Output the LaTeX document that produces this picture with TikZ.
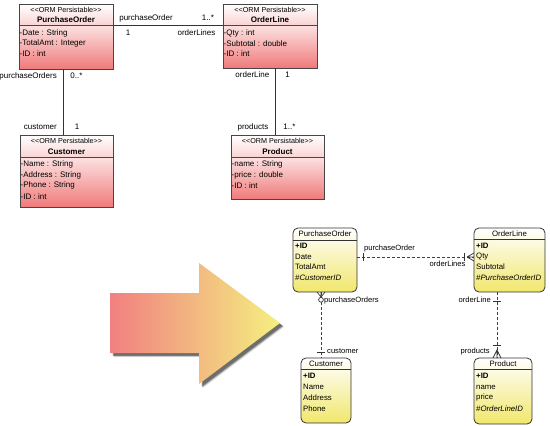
\documentclass[tikz,border=0pt]{standalone}
\usepackage{fontspec}
\setmainfont{Liberation Sans}
\usetikzlibrary{fit}
\definecolor{umlline}{RGB}{70,70,70}
\definecolor{umlheadbot}{RGB}{250,212,212}
\definecolor{umlbodytop}{RGB}{252,226,226}
\definecolor{umlbodybot}{RGB}{240,122,122}
\definecolor{eryel}{RGB}{241,231,108}
\definecolor{arrL}{RGB}{241,128,128}
\definecolor{arrR}{RGB}{244,240,128}
\begin{document}
\begin{tikzpicture}[x=1pt,y=-1pt,
  umlhead/.style={draw=umlline, line width=0.8pt, inner sep=0pt, top color=white, bottom color=umlheadbot},
  umlbody/.style={draw=umlline, line width=0.8pt, inner sep=0pt, top color=umlbodytop, bottom color=umlbodybot},
  erbox/.style={draw=black!80, line width=0.8pt, rounded corners=5pt, inner sep=0pt, top color=white, bottom color=eryel},
  stereo/.style={font=\fontsize{7.2}{8}\selectfont, inner sep=0pt},
  ctitle/.style={font=\fontsize{8}{9}\selectfont\bfseries, inner sep=0pt},
  attr/.style={font=\fontsize{8}{9}\selectfont, inner sep=0pt, anchor=west},
  lbl/.style={font=\fontsize{8}{9}\selectfont, inner sep=0pt},
  erhead/.style={font=\fontsize{7.8}{9}\selectfont, inner sep=0pt},
  erattr/.style={font=\fontsize{7.8}{9}\selectfont, inner sep=0pt, anchor=west},
  erlbl/.style={font=\fontsize{7.6}{9}\selectfont, inner sep=0pt},
  assoc/.style={draw=black!80, line width=0.7pt},
  erline/.style={draw=black!75, line width=0.7pt, dash pattern=on 3pt off 2pt},
  ersym/.style={draw=black!80, line width=0.7pt},
]
\useasboundingbox (0,0) rectangle (550,426);

% ---------------- UML classes ----------------
\node[umlhead, fit={(19,4)(113,25)}] (poH) {};
\node[umlbody, fit={(19,25)(113,69)}] (poB) {};
\node[stereo] (poS) at (66,9.5) {<\kern0pt<ORM Persistable>\kern0pt>};
\node[ctitle] (poT) at (66,20) {PurchaseOrder};
\node[attr] (poA1) at (19.5,33) {-Date : String};
\node[attr] (poA2) at (19.5,43.5) {-TotalAmt : Integer};
\node[attr] (poA3) at (19.5,54) {-ID : int};

\node[umlhead, fit={(223,4)(317,25)}] (olH) {};
\node[umlbody, fit={(223,25)(317,68)}] (olB) {};
\node[stereo] (olS) at (270,9.5) {<\kern0pt<ORM Persistable>\kern0pt>};
\node[ctitle] (olT) at (270,20) {OrderLine};
\node[attr] (olA1) at (223.5,33) {-Qty : int};
\node[attr] (olA2) at (223.5,43.5) {-Subtotal : double};
\node[attr] (olA3) at (223.5,54) {-ID : int};

\node[umlhead, fit={(20,135)(113,157)}] (cuH) {};
\node[umlbody, fit={(20,157)(113,207)}] (cuB) {};
\node[stereo] (cuS) at (66.5,140.5) {<\kern0pt<ORM Persistable>\kern0pt>};
\node[ctitle] (cuT) at (66.5,151.5) {Customer};
\node[attr] (cuA1) at (20.5,164) {-Name : String};
\node[attr] (cuA2) at (20.5,175) {-Address : String};
\node[attr] (cuA3) at (20.5,185.5) {-Phone : String};
\node[attr] (cuA4) at (20.5,196.5) {-ID : int};

\node[umlhead, fit={(231,135)(324,157)}] (prH) {};
\node[umlbody, fit={(231,157)(324,199)}] (prB) {};
\node[stereo] (prS) at (277.5,140.5) {<\kern0pt<ORM Persistable>\kern0pt>};
\node[ctitle] (prT) at (277.5,151.5) {Product};
\node[attr] (prA1) at (231.5,164) {-name : String};
\node[attr] (prA2) at (231.5,175) {-price : double};
\node[attr] (prA3) at (231.5,185.5) {-ID : int};

% UML associations
\draw[assoc] (poH.south east) -- (olH.south west);
\draw[assoc] ([xshift=-3pt]poB.south) -- ([xshift=-3pt]poB.south |- cuH.north);
\draw[assoc] ([xshift=5.5pt]olB.south) -- ([xshift=5.5pt]olB.south |- prH.north);

\node[lbl] (l1) at (146,18) {purchaseOrder};
\node[lbl] (l2) at (208,18) {1..*};
\node[lbl] (l3) at (128,33) {1};
\node[lbl] (l4) at (196.5,33) {orderLines};
\node[lbl, anchor=east] (l5) at (57,76) {purchaseOrders};
\node[lbl] (l6) at (76.5,76) {0..*};
\node[lbl, anchor=east] (l7) at (57,127) {customer};
\node[lbl] (l8) at (77,127) {1};
\node[lbl, anchor=east] (l9) at (269.5,75) {orderLine};
\node[lbl] (l10) at (287.5,75) {1};
\node[lbl, anchor=east] (l11) at (268.5,127) {products};
\node[lbl] (l12) at (289.5,127) {1..*};

% ---------------- big arrow ----------------
\foreach \o/\op in {4/0.10,3.5/0.15,3/0.25,2.5/0.25} {
  \fill[black, opacity=\op, shift={(\o,\o)}]
    (110,293) -- (199,293) -- (199,263) -- (280,323) -- (199,384) -- (199,353) -- (110,353) -- cycle;
}
\shade[left color=arrL, right color=arrR]
  (110,293) -- (199,293) -- (199,263) -- (280,323) -- (199,384) -- (199,353) -- (110,353) -- cycle;

% ---------------- ER entities ----------------
\node[erbox, fit={(293,228)(357,292)}] (epo) {};
\draw[draw=black!80, line width=0.8pt] (epo.west |- 0,240) -- (epo.east |- 0,240);
\node[erhead] (epoT) at (325,233.8) {PurchaseOrder};
\node[erattr] (epoA1) at (295,246) {\bfseries +ID};
\node[erattr] (epoA2) at (295,256.5) {Date};
\node[erattr] (epoA3) at (295,267) {TotalAmt};
\node[erattr] (epoA4) at (295,278) {\itshape \#CustomerID};

\node[erbox, fit={(474,228)(545,292)}] (eol) {};
\draw[draw=black!80, line width=0.8pt] (eol.west |- 0,239.5) -- (eol.east |- 0,239.5);
\node[erhead] (eolT) at (509.5,234) {OrderLine};
\node[erattr] (eolA1) at (476,246) {\bfseries +ID};
\node[erattr] (eolA2) at (476,256.5) {Qty};
\node[erattr] (eolA3) at (476,267) {Subtotal};
\node[erattr] (eolA4) at (476,277.5) {\itshape \#PurchaseOrderID};

\node[erbox, fit={(301,358)(351,423)}] (ecu) {};
\draw[draw=black!80, line width=0.8pt] (ecu.west |- 0,369) -- (ecu.east |- 0,369);
\node[erhead] (ecuT) at (326,363.8) {Customer};
\node[erattr] (ecuA1) at (303,376) {\bfseries +ID};
\node[erattr] (ecuA2) at (303,387) {Name};
\node[erattr] (ecuA3) at (303,398) {Address};
\node[erattr] (ecuA4) at (303,409) {Phone};

\node[erbox, fit={(474,358)(532,424)}] (epr) {};
\draw[draw=black!80, line width=0.8pt] (epr.west |- 0,369) -- (epr.east |- 0,369);
\node[erhead] (eprT) at (503,364) {Product};
\node[erattr] (eprA1) at (476,376) {\bfseries +ID};
\node[erattr] (eprA2) at (476,387) {name};
\node[erattr] (eprA3) at (476,397.5) {price};
\node[erattr] (eprA4) at (476,408.5) {\itshape \#OrderLineID};

% ER relationships
\draw[erline] ([yshift=3pt]epo.east) -- ([yshift=3pt]eol.west);
\draw[ersym] (363,253) -- (363,261);
\draw[ersym] (464,253) -- (464,261);
\draw[ersym] (467,257) -- (474,253) (467,257) -- (474,261) (467,257) -- (474,257);

\draw[erline] ([xshift=-4pt]epo.south) -- ([xshift=-4pt]epo.south |- ecu.north);
\draw[ersym] (317,292) -- (321,297) -- (325,292) (321,292) -- (321,297);
\draw[ersym, fill=white] (321,299.8) circle (2.4);
\draw[ersym] (317,352) -- (325,352);

\draw[erline] ([xshift=-12.5pt]eol.south) -- ([xshift=-12.5pt]eol.south |- epr.north);
\draw[ersym] (493,301) -- (501,301);
\draw[ersym] (493,345) -- (501,345);
\draw[ersym] (493,358) -- (497,350) -- (501,358) (497,350) -- (497,358);

\node[erlbl, anchor=west] (e1) at (364,249) {purchaseOrder};
\node[erlbl] (e2) at (447.5,264) {orderLines};
\node[erlbl, anchor=west] (e3) at (324,300.5) {purchaseOrders};
\node[erlbl, anchor=west] (e4) at (327,351.5) {customer};
\node[erlbl, anchor=east] (e5) at (491,300) {orderLine};
\node[erlbl, anchor=east] (e6) at (490,352) {products};
\end{tikzpicture}
\end{document}
